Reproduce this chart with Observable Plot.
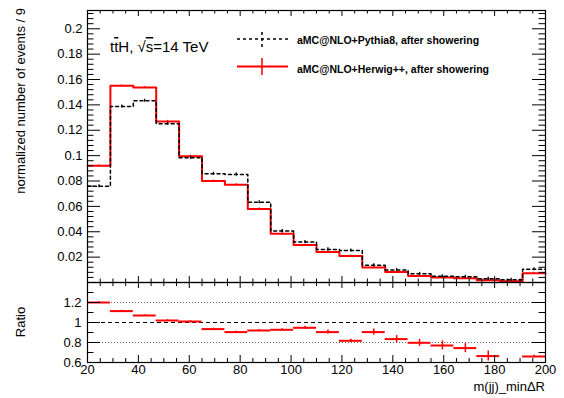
<!DOCTYPE html>
<html><head><meta charset="utf-8">
<script src="https://cdn.jsdelivr.net/npm/d3@7"></script>
<script src="https://cdn.jsdelivr.net/npm/@observablehq/plot@0.6"></script>
<style>
body{margin:0;background:#fff;}
#wrap{position:relative;width:564px;height:398px;font-family:"Liberation Sans",Arial,sans-serif;}
#wrap svg{position:absolute;left:0;overflow:visible;}
</style></head><body><div id="wrap"></div>
<script>
// bin edges of m(jj)_minΔR (width 9)
const edges = [20,29,38,47,56,65,74,83,92,101,110,119,128,137,146,155,164,173,182,191,200];
// aMC@NLO+Pythia8 (black dashed)
const pythia = [0.0758,0.1388,0.1432,0.1252,0.0983,0.0857,0.0852,0.0632,0.0405,0.0319,0.0261,0.0253,0.0136,0.0099,0.0068,0.0049,0.0045,0.0030,0.0022,0.0104];
// aMC@NLO+Herwig++ (red)
const herwig = [0.0920,0.1550,0.1537,0.1270,0.0996,0.0800,0.0771,0.0580,0.0384,0.0295,0.0240,0.0209,0.0118,0.0083,0.0052,0.0039,0.0034,0.0018,0.0010,0.0073];
// ratio Herwig/Pythia and its error
const ratio = [1.20,1.114,1.07,1.02,1.01,0.934,0.904,0.92,0.927,0.947,0.904,0.817,0.904,0.834,0.797,0.77,0.744,0.664,null,0.66];
const ratioErr = [0.008,0.008,0.008,0.008,0.008,0.01,0.01,0.01,0.01,0.015,0.02,0.015,0.03,0.035,0.035,0.045,0.045,0.05,null,0.012];
// tick values
const yMajor = [0.02,0.04,0.06,0.08,0.1,0.12,0.14,0.16,0.18,0.2];
const yMinor = [0.004,0.008,0.012,0.016,0.024,0.028,0.032,0.036,0.044,0.048,0.052,0.056,0.064,0.068,0.072,0.076,0.084,0.088,0.092,0.096,0.104,0.108,0.112,0.116,0.124,0.128,0.132,0.136,0.144,0.148,0.152,0.156,0.164,0.168,0.172,0.176,0.184,0.188,0.192,0.196,0.204,0.208,0.212];
const xMajor = [20,40,60,80,100,120,140,160,180,200];
const xMinor = [25,30,35,45,50,55,65,70,75,85,90,95,105,110,115,125,130,135,145,150,155,165,170,175,185,190,195];
const rMajor = [0.6,0.8,1,1.2,1.4];
const rLabels = [0.6,0.8,1,1.2];
const rMinor = [0.7,0.9,1.1,1.3];
const legendLabels = ["aMC@NLO+Pythia8, after showering","aMC@NLO+Herwig++, after showering"];

const W = 564, ML = 87, MR = 19;
const PW = W - ML - MR;
const font = '"Liberation Sans", Arial, sans-serif';

const step = vals => [...vals.map((v,i)=>({x:edges[i], y:v})), {x:edges[edges.length-1], y:vals[vals.length-1]}];
const bins = vals => vals.map((v,i)=>({x0:edges[i], x1:edges[i+1], xc:(edges[i]+edges[i+1])/2, v}));

const topH = 290, topMT = 10, topMB = 8;
const topPH = topH - topMT - topMB;
const wrap = document.getElementById("wrap");

const topPlot = Plot.plot({
  width: W, height: topH, marginLeft: ML, marginRight: MR, marginTop: topMT, marginBottom: topMB,
  style: {fontFamily: font, fontSize: "13px", color: "black", background: "transparent"},
  x: {domain: [20, 200], axis: null},
  y: {domain: [0, 0.2144], axis: null},
  marks: [
    Plot.line(step(herwig), {x: "x", y: "y", curve: "step-after", stroke: "#ff0000", strokeWidth: 2}),
    Plot.ruleX(bins(herwig), {x: "xc", y1: d => d.v - 0.0008, y2: d => d.v + 0.0008, stroke: "#ff0000", strokeWidth: 1}),
    Plot.line(step(pythia), {x: "x", y: "y", curve: "step-after", stroke: "black", strokeWidth: 1.5, strokeDasharray: "3,3"}),
    Plot.ruleX(bins(pythia), {x: "xc", y1: d => d.v - 0.0012, y2: d => d.v + 0.0012, stroke: "black", strokeWidth: 1.3}),
    // y ticks left/right
    Plot.tickY(yMajor, {y: d => d, insetRight: PW - 13, stroke: "black"}),
    Plot.tickY(yMinor, {y: d => d, insetRight: PW - 6.5, stroke: "black"}),
    Plot.tickY(yMajor, {y: d => d, insetLeft: PW - 13, stroke: "black"}),
    Plot.tickY(yMinor, {y: d => d, insetLeft: PW - 6.5, stroke: "black"}),
    // x ticks bottom/top
    Plot.tickX(xMajor, {x: d => d, insetTop: topPH - 6, stroke: "black"}),
    Plot.tickX(xMinor, {x: d => d, insetTop: topPH - 3.5, stroke: "black"}),
    Plot.tickX(xMajor, {x: d => d, insetBottom: topPH - 6, stroke: "black"}),
    Plot.tickX(xMinor, {x: d => d, insetBottom: topPH - 3.5, stroke: "black"}),
    Plot.axisY(yMajor, {anchor: "left", tickSize: 0, tickPadding: 5, tickFormat: d => String(d), label: null, fontSize: 13}),
    Plot.frame({stroke: "black", strokeWidth: 1.2})
  ]
});
topPlot.style.top = "0px";
wrap.appendChild(topPlot);

const rH = 116, rMB = 36;
const rPH = rH - rMB;
const rData = bins(ratio).map((d,i)=>({...d, e: ratioErr[i]})).filter(d => d.v != null);
const ratioPlot = Plot.plot({
  width: W, height: rH, marginLeft: ML, marginRight: MR, marginTop: 0, marginBottom: rMB,
  style: {fontFamily: font, fontSize: "13px", color: "black", background: "transparent"},
  x: {domain: [20, 200], axis: null},
  y: {domain: [0.6, 1.4], axis: null},
  marks: [
    Plot.ruleY([0.8, 1.2], {stroke: "#666", strokeDasharray: "1,2", strokeWidth: 1}),
    Plot.ruleY([1], {stroke: "black", strokeDasharray: "4,3", strokeWidth: 1.2}),
    Plot.ruleY(rData, {y: "v", x1: "x0", x2: "x1", stroke: "#ff0000", strokeWidth: 2}),
    Plot.ruleX(rData, {x: "xc", y1: d => d.v - d.e, y2: d => d.v + d.e, stroke: "#ff0000", strokeWidth: 1.5}),
    Plot.tickY(rMajor, {y: d => d, insetRight: PW - 13, stroke: "black"}),
    Plot.tickY(rMinor, {y: d => d, insetRight: PW - 6.5, stroke: "black"}),
    Plot.tickY(rMajor, {y: d => d, insetLeft: PW - 13, stroke: "black"}),
    Plot.tickY(rMinor, {y: d => d, insetLeft: PW - 6.5, stroke: "black"}),
    Plot.tickX(xMajor, {x: d => d, insetTop: rPH - 7, stroke: "black"}),
    Plot.tickX(xMinor, {x: d => d, insetTop: rPH - 4, stroke: "black"}),
    Plot.tickX(xMajor, {x: d => d, insetBottom: rPH - 6, stroke: "black"}),
    Plot.tickX(xMinor, {x: d => d, insetBottom: rPH - 4, stroke: "black"}),
    Plot.axisY(rLabels, {anchor: "left", tickSize: 0, tickPadding: 6, tickFormat: d => String(d), label: null, fontSize: 13}),
    Plot.axisX(xMajor, {anchor: "bottom", tickSize: 0, tickPadding: 2, tickFormat: d => String(d), label: null, fontSize: 13}),
    Plot.frame({stroke: "black", strokeWidth: 1.2})
  ]
});
ratioPlot.style.top = "282px";
wrap.appendChild(ratioPlot);

// overlay for titles, legend and annotation
const ov = d3.select(wrap).append("svg").attr("width", W).attr("height", 398).style("top", "0px")
  .style("font-family", font);
ov.append("text").attr("transform", "translate(25,8) rotate(-90)").attr("text-anchor", "end")
  .attr("font-size", 13).text("normalized number of events / 9");
ov.append("text").attr("transform", "translate(25,322) rotate(-90)").attr("text-anchor", "middle")
  .attr("font-size", 13).text("Ratio");
ov.append("text").attr("x", 545).attr("y", 391).attr("text-anchor", "end")
  .attr("font-size", 13).text("m(jj)_minΔR");
const t = ov.append("text").attr("x", 110).attr("y", 52).attr("font-size", 15);
t.append("tspan").text("t");
t.append("tspan").style("text-decoration", "overline").text("t");
t.append("tspan").text("H, √");
t.append("tspan").style("text-decoration", "overline").text("s");
t.append("tspan").text("=14 TeV");
// legend
ov.append("line").attr("x1", 237).attr("x2", 288).attr("y1", 39).attr("y2", 39)
  .attr("stroke", "black").attr("stroke-width", 1.5).attr("stroke-dasharray", "3,3");
ov.append("line").attr("x1", 262).attr("x2", 262).attr("y1", 32).attr("y2", 47)
  .attr("stroke", "black").attr("stroke-width", 1.5).attr("stroke-dasharray", "3,3");
ov.append("line").attr("x1", 237).attr("x2", 288).attr("y1", 66.5).attr("y2", 66.5)
  .attr("stroke", "#ff0000").attr("stroke-width", 2);
ov.append("line").attr("x1", 262).attr("x2", 262).attr("y1", 58).attr("y2", 75)
  .attr("stroke", "#ff0000").attr("stroke-width", 1.5);
ov.selectAll("text.leg").data(legendLabels).join("text").attr("class", "leg")
  .attr("x", 297).attr("y", (d,i) => 44 + i*29).attr("font-size", 10.5).attr("font-weight", "bold")
  .text(d => d);
</script></body></html>
